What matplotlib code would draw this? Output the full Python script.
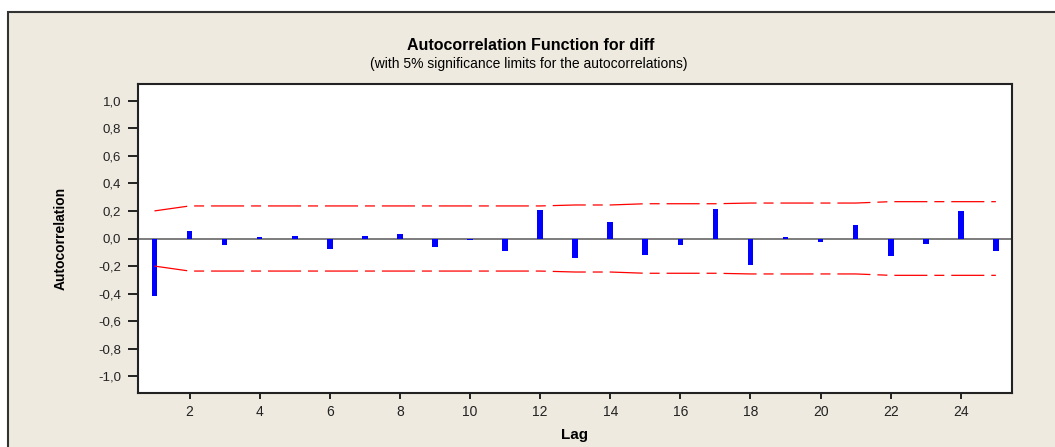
import matplotlib
matplotlib.use('Agg')
import matplotlib.pyplot as plt
from matplotlib.patches import Rectangle

# ACF of diff, lags 1..25
lags = list(range(1, 26))
acf = [-0.42, 0.055, -0.045, 0.01, 0.02, -0.075, 0.02, 0.035, -0.065, -0.01,
       -0.09, 0.205, -0.14, 0.12, -0.12, -0.045, 0.215, -0.19, 0.01, -0.025,
       0.10, -0.13, -0.04, 0.20, -0.09]
# upper 5% limit (lower is the mirror)
limit = [0.200] + [0.236] * 11 + [0.243] * 2 + [0.252] * 3 + [0.257] * 4 + [0.267] * 4
yticks = [1.0, 0.8, 0.6, 0.4, 0.2, 0.0, -0.2, -0.4, -0.6, -0.8, -1.0]
ytick_labels = ['1,0', '0,8', '0,6', '0,4', '0,2', '0,0', '-0,2', '-0,4', '-0,6', '-0,8', '-1,0']
xticks = list(range(2, 25, 2))

plt.rcParams['font.family'] = ['Liberation Sans', 'DejaVu Sans']
plt.rcParams['lines.scale_dashes'] = False

W, H = 1055, 447
fig = plt.figure(figsize=(W / 100, H / 100), dpi=100, facecolor='white')

# beige panel with dark border (top-left visible)
panel = Rectangle((8 / W, -0.1), 1.2, (H - 12) / H + 0.1, transform=fig.transFigure,
                  facecolor='#EEEAE0', edgecolor='#333333', linewidth=1.5, zorder=-5)
fig.patches.append(panel)

ax = fig.add_axes([138 / W, (H - 393) / H, 874 / W, 309 / H])
ax.set_zorder(2)
ax.set_facecolor('white')

ax.axhline(0, color='#666666', linewidth=1.2, zorder=1)
ax.bar(lags, acf, width=0.16, color='#0000FF', zorder=2)

dash = (0, (23.8, 5.0, 7.2, 5.0))
ax.plot(lags, limit, color='#FF0000', linewidth=0.9, linestyle=dash, zorder=3)
ax.plot(lags, [-v for v in limit], color='#FF0000', linewidth=0.9, linestyle=dash, zorder=3)

ax.set_xlim(0.53, 25.46)
ax.set_ylim(-1.12, 1.12)
ax.set_yticks(yticks)
ax.set_yticklabels(ytick_labels, fontsize=9.5, color='#222222')
ax.set_xticks(xticks)
ax.set_xticklabels([str(x) for x in xticks], fontsize=10, color='#222222')
ax.tick_params(axis='y', length=7, width=1.2, pad=5)
ax.tick_params(axis='x', length=4, width=1.2, pad=5)
for s in ax.spines.values():
    s.set_linewidth(1.5)
    s.set_color('#222222')

ax.set_ylabel('Autocorrelation', fontsize=10, fontweight='bold', labelpad=22)
ax.set_xlabel('Lag', fontsize=11, fontweight='bold', labelpad=6)

fig.text(0.503, 1 - 45 / H, 'Autocorrelation Function for diff', ha='center', va='center',
         fontsize=11.5, fontweight='bold')
fig.text(0.501, 1 - 64 / H, '(with 5% significance limits for the autocorrelations)',
         ha='center', va='center', fontsize=10)

fig.savefig('out.png', dpi=100, facecolor=fig.get_facecolor())
